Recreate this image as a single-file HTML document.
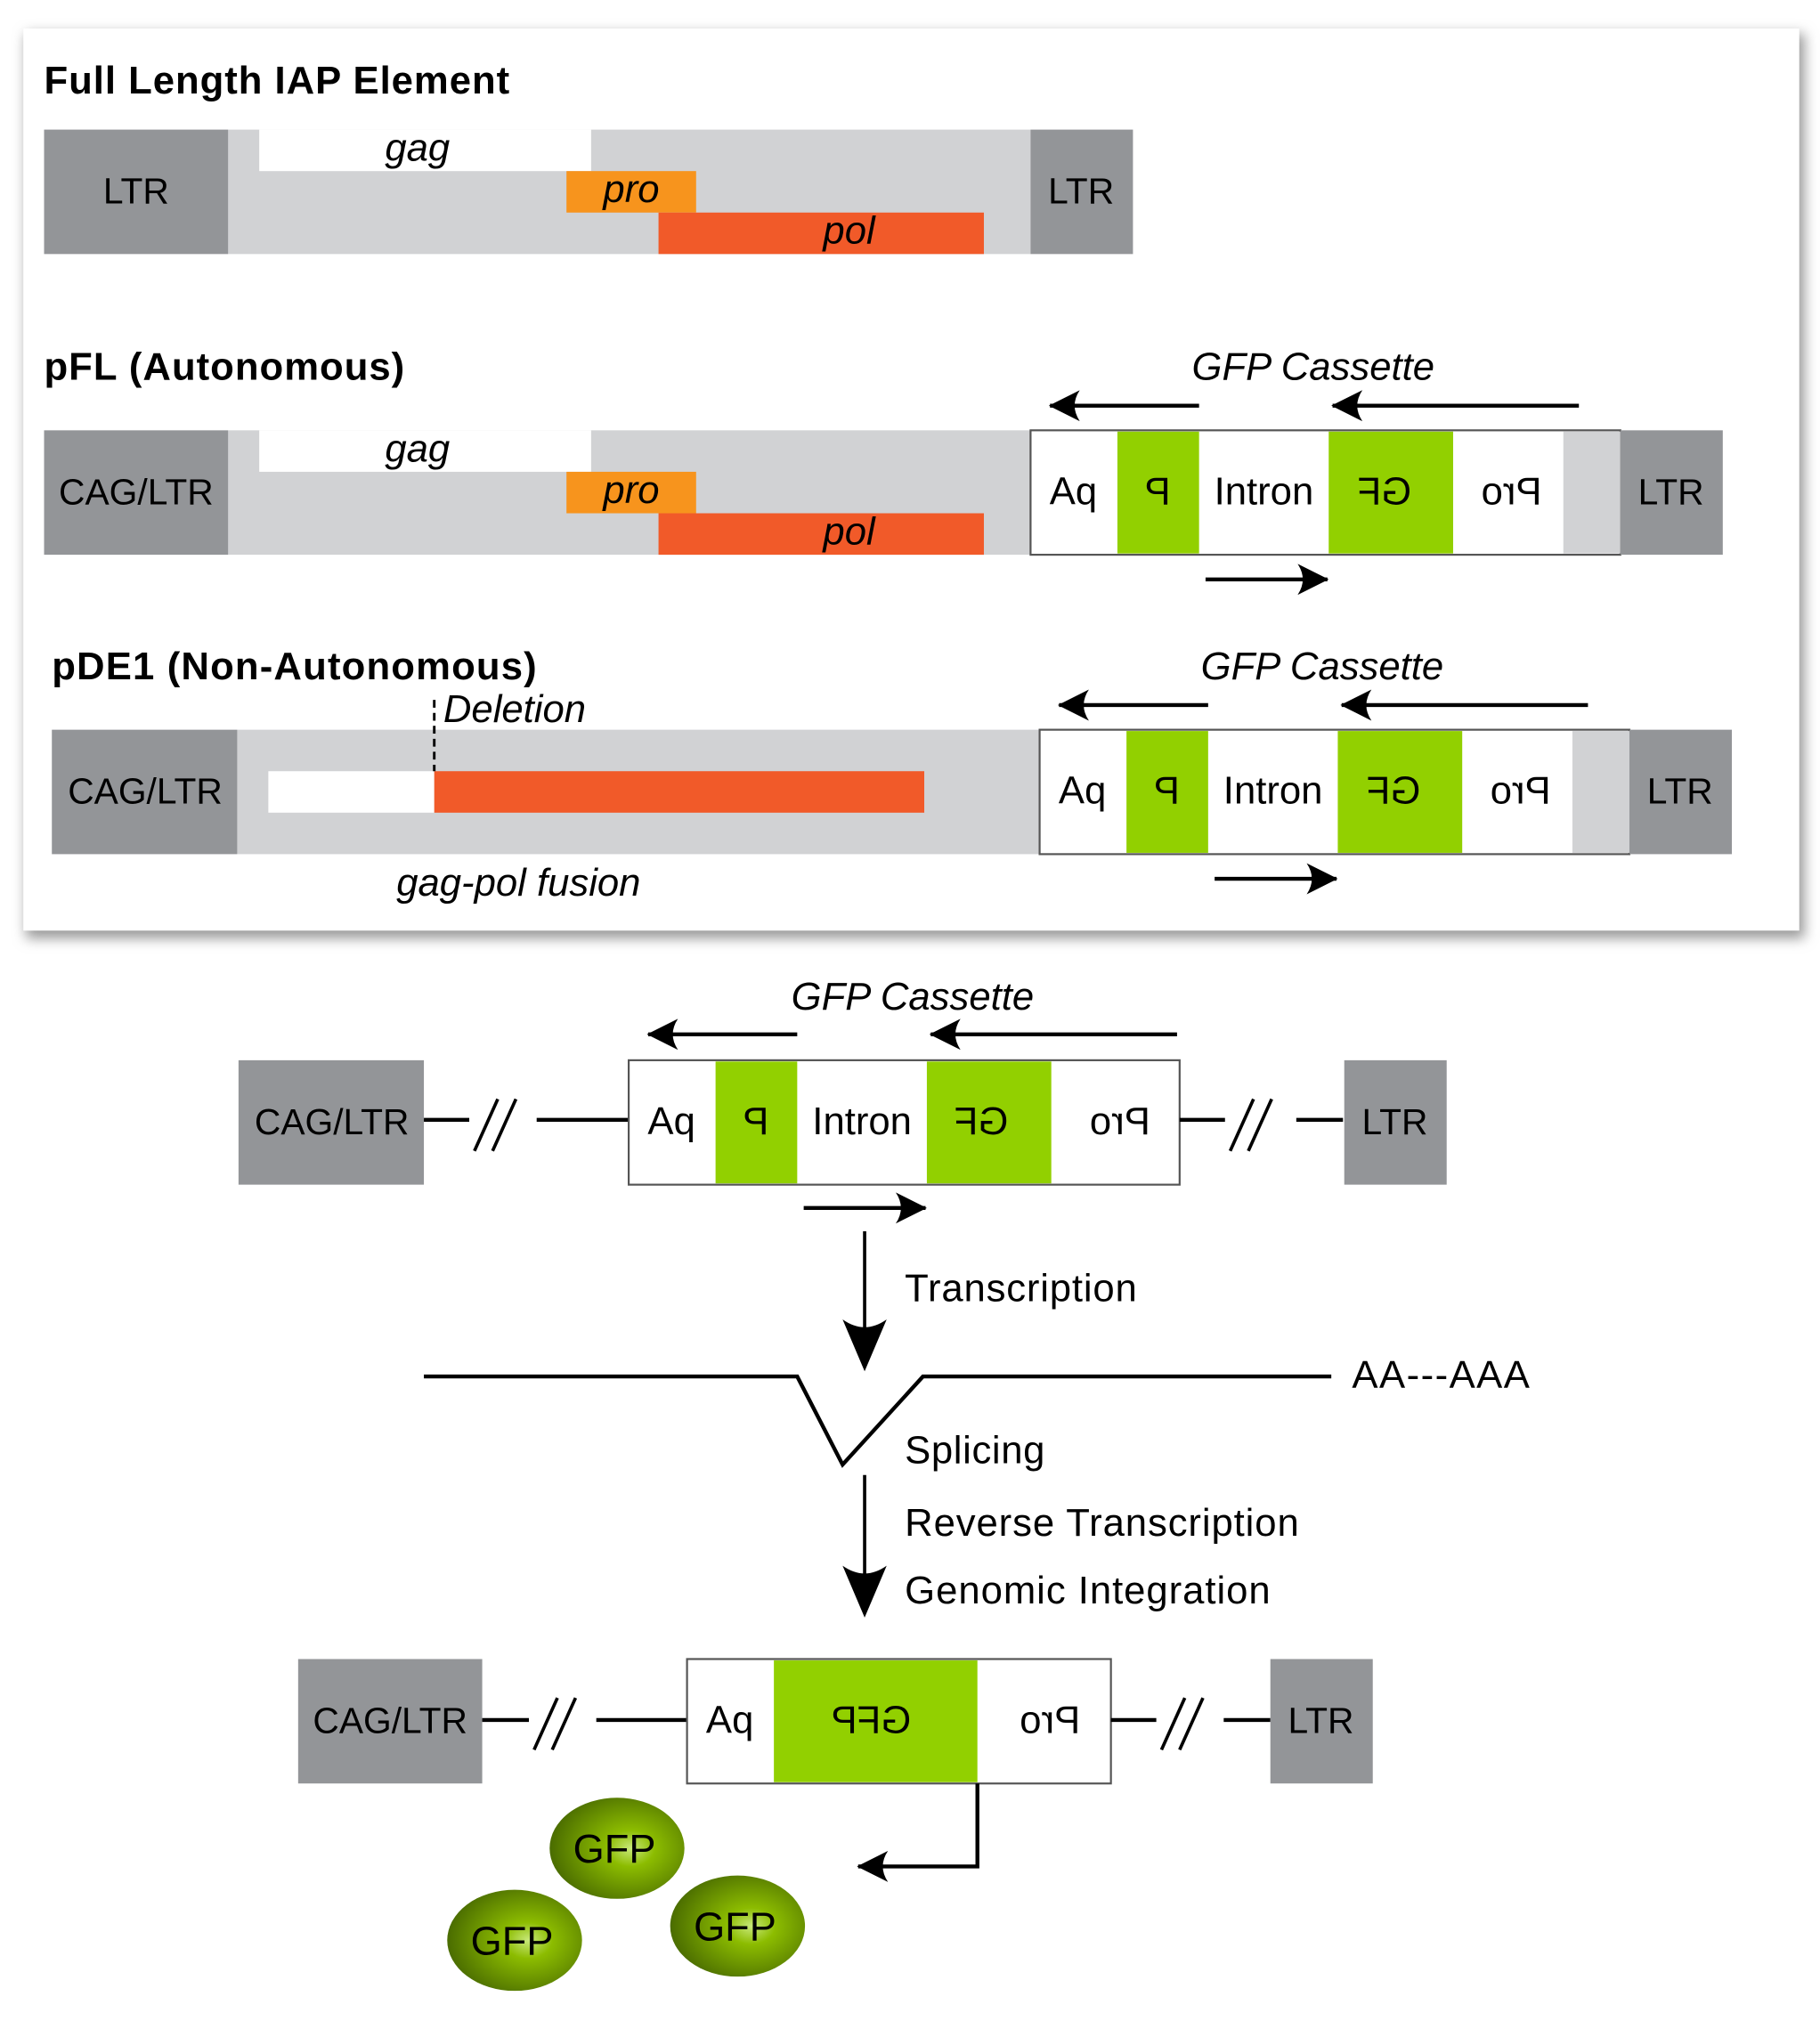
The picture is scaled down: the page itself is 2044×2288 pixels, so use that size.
<!DOCTYPE html>
<html><head><meta charset="utf-8"><style>
html,body{margin:0;padding:0;background:#fff;}
svg{display:block;}
text{font-family:"Liberation Sans",sans-serif;}
</style></head><body>
<svg width="2044" height="2288" viewBox="0 0 1404 1571.6" preserveAspectRatio="none" xmlns="http://www.w3.org/2000/svg">
<defs>
<filter id="sh" x="-5%" y="-5%" width="110%" height="110%"><feGaussianBlur stdDeviation="5"/></filter>
<radialGradient id="gb" cx="0.6" cy="0.5" r="0.6"><stop offset="0" stop-color="#c8e87a"/><stop offset="0.3" stop-color="#8cbc00"/><stop offset="1" stop-color="#4a6c00"/></radialGradient>
<marker id="ah" viewBox="0 0 24 24" refX="23" refY="12" markerWidth="24" markerHeight="24" markerUnits="userSpaceOnUse" orient="auto"><path d="M0,0 Q8,12 0,24 L24,12 Z" fill="#000"/></marker>
</defs>
<rect x="20" y="26" width="1372" height="698" fill="#999" filter="url(#sh)"/>
<rect x="18" y="22" width="1370" height="696" fill="#fff"/>

<g>
<text x="34" y="72" font-size="30" font-weight="bold" textLength="359">Full Length IAP Element</text>
<rect x="176" y="100" width="619" height="96" fill="#d1d2d4"/>
<rect x="34" y="100" width="142" height="96" fill="#939598"/>
<rect x="795" y="100" width="79" height="96" fill="#939598"/>
<rect x="200" y="100" width="256" height="32" fill="#fff"/>
<rect x="437" y="132" width="100" height="32" fill="#f7941d"/>
<rect x="508" y="164" width="251" height="32" fill="#f15a29"/>
<text x="105" y="157" font-size="28" text-anchor="middle">LTR</text>
<text x="834" y="157" font-size="28" text-anchor="middle">LTR</text>
<text x="322" y="124" font-size="30" font-style="italic" text-anchor="middle">gag</text>
<text x="487" y="156" font-size="30" font-style="italic" text-anchor="middle">pro</text>
<text x="655" y="188" font-size="30" font-style="italic" text-anchor="middle">pol</text>
</g>

<g>
<text x="34" y="293" font-size="30" font-weight="bold" textLength="278">pFL (Autonomous)</text>
<text x="1013" y="293" font-size="30" font-style="italic" text-anchor="middle">GFP Cassette</text>
<line x1="925" y1="313" x2="810" y2="313" stroke="#000" stroke-width="3" marker-end="url(#ah)"/>
<line x1="1218" y1="313" x2="1028" y2="313" stroke="#000" stroke-width="3" marker-end="url(#ah)"/>
<rect x="176" y="332" width="1074" height="96" fill="#d1d2d4"/>
<rect x="34" y="332" width="142" height="96" fill="#939598"/>
<rect x="200" y="332" width="256" height="32" fill="#fff"/>
<rect x="437" y="364" width="100" height="32" fill="#f7941d"/>
<rect x="508" y="396" width="251" height="32" fill="#f15a29"/>
<text x="105" y="389" font-size="28" text-anchor="middle">CAG/LTR</text>
<text x="322" y="356" font-size="30" font-style="italic" text-anchor="middle">gag</text>
<text x="487" y="388" font-size="30" font-style="italic" text-anchor="middle">pro</text>
<text x="655" y="420" font-size="30" font-style="italic" text-anchor="middle">pol</text>
<rect x="795" y="332" width="455" height="96" fill="#fff" stroke="#555" stroke-width="1.5"/>
<rect x="862" y="333" width="63" height="94" fill="#92d000"/>
<rect x="1025" y="333" width="96" height="94" fill="#92d000"/>
<rect x="1206" y="333" width="44" height="94" fill="#d1d2d4"/>
<rect x="1250" y="332" width="79" height="96" fill="#939598"/>
<g transform="translate(828,389) scale(-1,1)"><text x="0" y="0" font-size="30" text-anchor="middle">pA</text></g>
<g transform="translate(893,389) scale(-1,1)"><text x="0" y="0" font-size="30" text-anchor="middle">P</text></g>
<text x="975" y="389" font-size="30" text-anchor="middle">Intron</text>
<g transform="translate(1068,389) scale(-1,1)"><text x="0" y="0" font-size="30" text-anchor="middle">GF</text></g>
<g transform="translate(1166,389) scale(-1,1)"><text x="0" y="0" font-size="30" text-anchor="middle">Pro</text></g>
<text x="1289" y="389" font-size="28" text-anchor="middle">LTR</text>
<line x1="930" y1="447" x2="1024" y2="447" stroke="#000" stroke-width="3" marker-end="url(#ah)"/>
</g>

<g>
<text x="40" y="524" font-size="30" font-weight="bold" textLength="374">pDE1 (Non-Autonomous)</text>
<text x="1020" y="524" font-size="30" font-style="italic" text-anchor="middle">GFP Cassette</text>
<line x1="932" y1="544" x2="817" y2="544" stroke="#000" stroke-width="3" marker-end="url(#ah)"/>
<line x1="1225" y1="544" x2="1035" y2="544" stroke="#000" stroke-width="3" marker-end="url(#ah)"/>
<rect x="183" y="563" width="1074" height="96" fill="#d1d2d4"/>
<rect x="40" y="563" width="143" height="96" fill="#939598"/>
<rect x="207" y="595" width="128" height="32" fill="#fff"/>
<rect x="335" y="595" width="378" height="32" fill="#f15a29"/>
<line x1="335" y1="540" x2="335" y2="595" stroke="#000" stroke-width="2" stroke-dasharray="6,4"/>
<text x="342" y="557" font-size="30" font-style="italic">Deletion</text>
<text x="112" y="620" font-size="28" text-anchor="middle">CAG/LTR</text>
<rect x="802" y="563" width="455" height="96" fill="#fff" stroke="#555" stroke-width="1.5"/>
<rect x="869" y="564" width="63" height="94" fill="#92d000"/>
<rect x="1032" y="564" width="96" height="94" fill="#92d000"/>
<rect x="1213" y="564" width="44" height="94" fill="#d1d2d4"/>
<rect x="1257" y="563" width="79" height="96" fill="#939598"/>
<g transform="translate(835,620) scale(-1,1)"><text x="0" y="0" font-size="30" text-anchor="middle">pA</text></g>
<g transform="translate(900,620) scale(-1,1)"><text x="0" y="0" font-size="30" text-anchor="middle">P</text></g>
<text x="982" y="620" font-size="30" text-anchor="middle">Intron</text>
<g transform="translate(1075,620) scale(-1,1)"><text x="0" y="0" font-size="30" text-anchor="middle">GF</text></g>
<g transform="translate(1173,620) scale(-1,1)"><text x="0" y="0" font-size="30" text-anchor="middle">Pro</text></g>
<text x="1296" y="620" font-size="28" text-anchor="middle">LTR</text>
<line x1="937" y1="678" x2="1031" y2="678" stroke="#000" stroke-width="3" marker-end="url(#ah)"/>
<text x="400" y="691" font-size="30" font-style="italic" text-anchor="middle">gag-pol fusion</text>
</g>

<g>
<text x="704" y="779" font-size="30" font-style="italic" text-anchor="middle">GFP Cassette</text>
<line x1="615" y1="798" x2="500" y2="798" stroke="#000" stroke-width="3" marker-end="url(#ah)"/>
<line x1="908" y1="798" x2="718" y2="798" stroke="#000" stroke-width="3" marker-end="url(#ah)"/>
<rect x="184" y="818" width="143" height="96" fill="#939598"/>
<text x="256" y="875" font-size="28" text-anchor="middle">CAG/LTR</text>
<line x1="327" y1="864" x2="362" y2="864" stroke="#000" stroke-width="3"/>
<line x1="366" y1="888" x2="384" y2="848" stroke="#000" stroke-width="2.5"/>
<line x1="380" y1="888" x2="398" y2="848" stroke="#000" stroke-width="2.5"/>
<line x1="414" y1="864" x2="485" y2="864" stroke="#000" stroke-width="3"/>
<rect x="485" y="818" width="425" height="96" fill="#fff" stroke="#555" stroke-width="1.5"/>
<rect x="552" y="819" width="63" height="94" fill="#92d000"/>
<rect x="715" y="819" width="96" height="94" fill="#92d000"/>
<g transform="translate(518,875) scale(-1,1)"><text x="0" y="0" font-size="30" text-anchor="middle">pA</text></g>
<g transform="translate(583,875) scale(-1,1)"><text x="0" y="0" font-size="30" text-anchor="middle">P</text></g>
<text x="665" y="875" font-size="30" text-anchor="middle">Intron</text>
<g transform="translate(757,875) scale(-1,1)"><text x="0" y="0" font-size="30" text-anchor="middle">GF</text></g>
<g transform="translate(864,875) scale(-1,1)"><text x="0" y="0" font-size="30" text-anchor="middle">Pro</text></g>
<line x1="910" y1="864" x2="945" y2="864" stroke="#000" stroke-width="3"/>
<line x1="949" y1="888" x2="967" y2="848" stroke="#000" stroke-width="2.5"/>
<line x1="963" y1="888" x2="981" y2="848" stroke="#000" stroke-width="2.5"/>
<line x1="1000" y1="864" x2="1036" y2="864" stroke="#000" stroke-width="3"/>
<rect x="1037" y="818" width="79" height="96" fill="#939598"/>
<text x="1076" y="875" font-size="28" text-anchor="middle">LTR</text>
<line x1="620" y1="932" x2="714" y2="932" stroke="#000" stroke-width="3" marker-end="url(#ah)"/>
</g>

<g>
<line x1="667" y1="950" x2="667" y2="1040" stroke="#000" stroke-width="2.5"/>
<path d="M650,1018 Q667,1030 684,1018 L667,1058 Z" fill="#000"/>
<text x="698" y="1004" font-size="30" textLength="179">Transcription</text>
<polyline points="327,1062 615,1062 650,1130 712,1062 1027,1062" fill="none" stroke="#000" stroke-width="3"/>
<text x="1043" y="1071" font-size="30" textLength="137">AA---AAA</text>
<text x="698" y="1129" font-size="30" textLength="108">Splicing</text>
<line x1="667" y1="1138" x2="667" y2="1230" stroke="#000" stroke-width="2.5"/>
<path d="M650,1208 Q667,1220 684,1208 L667,1248 Z" fill="#000"/>
<text x="698" y="1185" font-size="30" textLength="304">Reverse Transcription</text>
<text x="698" y="1237" font-size="30" textLength="282">Genomic Integration</text>
</g>

<g>
<rect x="230" y="1280" width="142" height="96" fill="#939598"/>
<text x="301" y="1337" font-size="28" text-anchor="middle">CAG/LTR</text>
<line x1="372" y1="1327" x2="408" y2="1327" stroke="#000" stroke-width="3"/>
<line x1="412" y1="1350" x2="430" y2="1310" stroke="#000" stroke-width="2.5"/>
<line x1="426" y1="1350" x2="444" y2="1310" stroke="#000" stroke-width="2.5"/>
<line x1="460" y1="1327" x2="530" y2="1327" stroke="#000" stroke-width="3"/>
<rect x="530" y="1280" width="327" height="96" fill="#fff" stroke="#555" stroke-width="1.5"/>
<rect x="597" y="1281" width="157" height="94" fill="#92d000"/>
<g transform="translate(563,1337) scale(-1,1)"><text x="0" y="0" font-size="30" text-anchor="middle">pA</text></g>
<g transform="translate(672,1337) scale(-1,1)"><text x="0" y="0" font-size="30" text-anchor="middle">GFP</text></g>
<g transform="translate(810,1337) scale(-1,1)"><text x="0" y="0" font-size="30" text-anchor="middle">Pro</text></g>
<line x1="857" y1="1327" x2="892" y2="1327" stroke="#000" stroke-width="3"/>
<line x1="896" y1="1350" x2="914" y2="1310" stroke="#000" stroke-width="2.5"/>
<line x1="910" y1="1350" x2="928" y2="1310" stroke="#000" stroke-width="2.5"/>
<line x1="944" y1="1327" x2="980" y2="1327" stroke="#000" stroke-width="3"/>
<rect x="980" y="1280" width="79" height="96" fill="#939598"/>
<text x="1019" y="1337" font-size="28" text-anchor="middle">LTR</text>
<polyline points="754,1376 754,1440 662,1440" fill="none" stroke="#000" stroke-width="3" marker-end="url(#ah)"/>
</g>

<g>
<ellipse cx="476" cy="1426" rx="52" ry="39" fill="url(#gb)"/>
<text x="474" y="1437" font-size="31" text-anchor="middle">GFP</text>
<ellipse cx="397" cy="1497" rx="52" ry="39" fill="url(#gb)"/>
<text x="395" y="1508" font-size="31" text-anchor="middle">GFP</text>
<ellipse cx="569" cy="1486" rx="52" ry="39" fill="url(#gb)"/>
<text x="567" y="1497" font-size="31" text-anchor="middle">GFP</text>
</g>
</svg>
</body></html>
